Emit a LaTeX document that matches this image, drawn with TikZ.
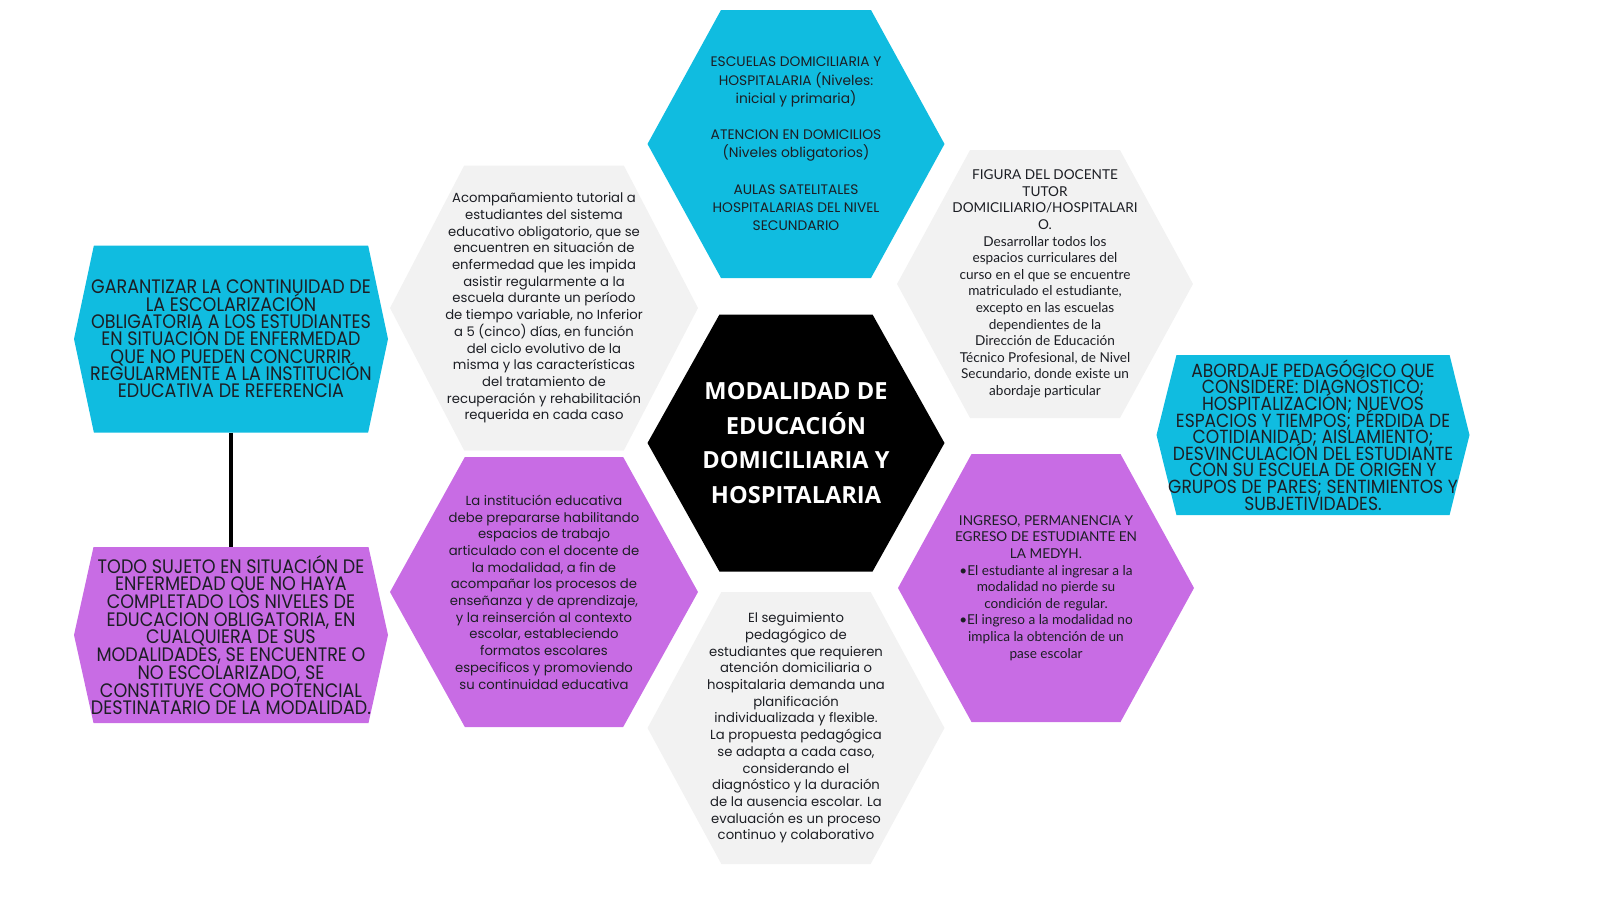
\documentclass[tikz,border=0pt]{standalone}
\usepackage{fontspec}
\setmainfont{Poppins}
\newfontfamily\latofont{Lato}
\newfontfamily\capsfont{Poppins}[FakeStretch=0.9]
\newfontfamily\titlefont{Open Sans}
\usetikzlibrary{shapes.symbols}
\definecolor{cyanfill}{RGB}{16,188,224}
\definecolor{purplefill}{RGB}{200,108,228}
\definecolor{grayfill}{RGB}{242,242,242}
\definecolor{inkdark}{RGB}{28,30,36}
\tikzset{
hexa/.style 2 args={shape=signal, signal to=east and west, signal pointer angle=#2,
	fill=#1, draw=none, inner sep=0pt, outer sep=0pt},
hexsize/.style 2 args={minimum width=#1, minimum height=#2},
connector/.style={line width=4pt},
bodytext/.style={align=center, text=inkdark, font=\fontsize{13.2}{16.7}\selectfont},
latotext/.style={align=center, text=inkdark, font=\latofont\fontsize{13.6}{16.6}\selectfont},
capstext/.style 2 args={align=center, text=inkdark,
	font={\capsfont\fontsize{#1}{#2}\selectfont\lineskiplimit=-\maxdimen}},
titletext/.style={align=center, text=white, font=\titlefont\bfseries\fontsize{23.6}{34.6}\selectfont},
}
\begin{document}
\begin{tikzpicture}[x=1pt, y=-1pt]
\useasboundingbox (0,0) rectangle (1600,900);
%Place the hexagons
\node[hexa={black}{121.5}, hexsize={297}{257}] (modalidad) at (796,443) {};
\node[hexa={cyanfill}{122.5}, hexsize={297}{268}] (escuelas) at (796,144) {};
\node[hexa={grayfill}{123}, hexsize={297}{272}] (seguimiento) at (796,728) {};
\node[hexa={grayfill}{125}, hexsize={308}{285}] (acompanamiento) at (544,308) {};
\node[hexa={purplefill}{122}, hexsize={308}{270}] (institucion) at (544,592) {};
\node[hexa={grayfill}{122.8}, hexsize={296}{268}] (figura) at (1045,284) {};
\node[hexa={purplefill}{122.5}, hexsize={296}{268}] (ingreso) at (1046,588) {};

%Side boxes
\node[hexa={cyanfill}{156}, hexsize={314}{187}] (garantizar) at (231,339) {};
\node[hexa={purplefill}{155}, hexsize={314}{176}] (todo) at (231,635) {};
\node[hexa={cyanfill}{152}, hexsize={313}{160}] (abordaje) at (1313,435) {};

%
\draw[connector] (garantizar) -- (todo);

%Texts
\node[titletext] (modalidad-t) at (modalidad) {MODALIDAD DE\\EDUCACIÓN\\DOMICILIARIA Y\\HOSPITALARIA};

\node[bodytext, font=\fontsize{13.8}{18.2}\selectfont] (escuelas-t) at (escuelas) {ESCUELAS DOMICILIARIA Y\\
HOSPITALARIA (Niveles:\\
inicial y primaria)\\[18.2pt]
ATENCION EN DOMICILIOS\\
(Niveles obligatorios)\\[18.2pt]
AULAS SATELITALES\\
HOSPITALARIAS DEL NIVEL\\
SECUNDARIO};

\node[bodytext] (acompanamiento-t) at (acompanamiento) {Acompañamiento tutorial a\\
estudiantes del sistema\\
educativo obligatorio, que se\\
encuentren en situación de\\
enfermedad que les impida\\
asistir regularmente a la\\
escuela durante un período\\
de tiempo variable, no Inferior\\
a 5 (cinco) días, en función\\
del ciclo evolutivo de la\\
misma y las características\\
del tratamiento de\\
recuperación y rehabilitación\\
requerida en cada caso};

\node[latotext] (figura-t) at (figura) {FIGURA DEL DOCENTE\\
TUTOR\\
DOMICILIARIO/HOSPITALARI\\
O.\\
Desarrollar todos los\\
espacios curriculares del\\
curso en el que se encuentre\\
matriculado el estudiante,\\
excepto en las escuelas\\
dependientes de la\\
Dirección de Educación\\
Técnico Profesional, de Nivel\\
Secundario, donde existe un\\
abordaje particular};

\node[bodytext] (institucion-t) at (institucion) {La institución educativa\\
debe prepararse habilitando\\
espacios de trabajo\\
articulado con el docente de\\
la modalidad, a fin de\\
acompañar los procesos de\\
enseñanza y de aprendizaje,\\
y la reinserción al contexto\\
escolar, estableciendo\\
formatos escolares\\
especificos y promoviendo\\
su continuidad educativa};

\node[latotext] (ingreso-t) at (ingreso) {INGRESO, PERMANENCIA Y\\
EGRESO DE ESTUDIANTE EN\\
LA MEDYH.\\
•El estudiante al ingresar a la\\
modalidad no pierde su\\
condición de regular.\\
•El ingreso a la modalidad no\\
implica la obtención de un\\
pase escolar};

\node[bodytext] (seguimiento-t) at (seguimiento) {El seguimiento\\
pedagógico de\\
estudiantes que requieren\\
atención domiciliaria o\\
hospitalaria demanda una\\
planificación\\
individualizada y flexible.\\
La propuesta pedagógica\\
se adapta a cada caso,\\
considerando el\\
diagnóstico y la duración\\
de la ausencia escolar. La\\
evaluación es un proceso\\
continuo y colaborativo};

\node[capstext={19.5}{17.3}] (garantizar-t) at (garantizar) {GARANTIZAR LA CONTINUIDAD DE\\
LA ESCOLARIZACIÓN\\
OBLIGATORIA A LOS ESTUDIANTES\\
EN SITUACIÓN DE ENFERMEDAD\\
QUE NO PUEDEN CONCURRIR\\
REGULARMENTE A LA INSTITUCIÓN\\
EDUCATIVA DE REFERENCIA};

\node[capstext={19.5}{17.7}] (todo-t) at (todo) {TODO SUJETO EN SITUACIÓN DE\\
ENFERMEDAD QUE NO HAYA\\
COMPLETADO LOS NIVELES DE\\
EDUCACION OBLIGATORIA, EN\\
CUALQUIERA DE SUS\\
MODALIDADES, SE ENCUENTRE O\\
NO ESCOLARIZADO, SE\\
CONSTITUYE COMO POTENCIAL\\
DESTINATARIO DE LA MODALIDAD.};

\node[capstext={19}{16.6}] (abordaje-t) at (abordaje) {ABORDAJE PEDAGÓGICO QUE\\
CONSIDERE: DIAGNÓSTICO;\\
HOSPITALIZACIÓN; NUEVOS\\
ESPACIOS Y TIEMPOS; PÉRDIDA DE\\
COTIDIANIDAD; AISLAMIENTO;\\
DESVINCULACIÓN DEL ESTUDIANTE\\
CON SU ESCUELA DE ORIGEN Y\\
GRUPOS DE PARES; SENTIMIENTOS Y\\
SUBJETIVIDADES.};

\end{tikzpicture}
\end{document}
